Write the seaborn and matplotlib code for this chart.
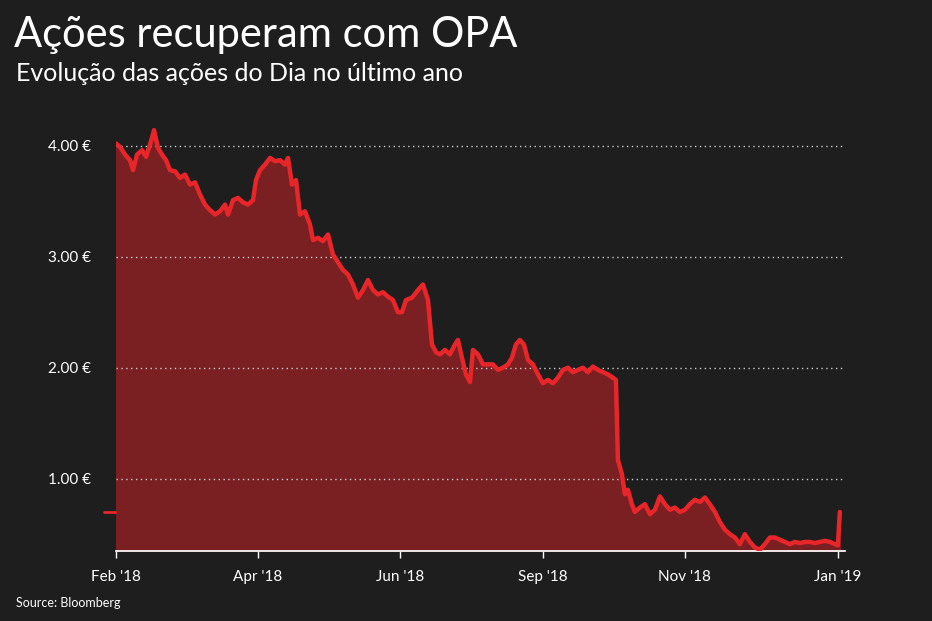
import matplotlib
matplotlib.use("Agg")
import matplotlib.pyplot as plt
import seaborn as sns
import pandas as pd

day = [0,4,9,14,17,21,26,30,34,38,42,46,50,54,59,64,69,74,79,84,89,94,99,104,109,112,117,122,127,132,137,140,144,149,154,159,164,169,172,176,180,184,189,194,197,202,207,212,217,222,227,232,237,242,247,252,257,262,267,272,277,282,286,290,296,302,307,312,316,320,324,329,334,339,342,346,350,354,357,362,367,372,377,382,387,392,396,400,404,408,412,417,422,427,432,437,442,447,452,457,462,467,472,477,482,487,492,497,500,502,506,509,512,516,519,524,529,534,539,544,549,554,559,564,569,574,579,584,589,594,599,604,609,614,619,624,629,634,639,644,649,654,659,664,669,674,679,684,689,694,699,704,709,714,719,722,724]
price = [4.02,3.99,3.92,3.87,3.78,3.92,3.96,3.90,4.01,4.14,3.98,3.92,3.87,3.78,3.77,3.71,3.74,3.65,3.67,3.56,3.47,3.42,3.38,3.41,3.47,3.38,3.51,3.53,3.49,3.47,3.51,3.69,3.78,3.83,3.89,3.86,3.87,3.83,3.89,3.65,3.69,3.38,3.41,3.29,3.15,3.17,3.14,3.20,3.02,2.95,2.88,2.84,2.75,2.63,2.70,2.79,2.70,2.66,2.68,2.64,2.61,2.50,2.50,2.61,2.63,2.70,2.75,2.61,2.21,2.14,2.12,2.16,2.12,2.21,2.25,2.09,1.94,1.87,2.16,2.12,2.03,2.03,2.03,1.98,2.00,2.03,2.09,2.21,2.25,2.21,2.07,2.03,1.94,1.86,1.89,1.86,1.91,1.98,2.00,1.96,1.98,2.00,1.96,2.01,1.98,1.96,1.94,1.91,1.89,1.17,1.04,0.86,0.90,0.77,0.70,0.74,0.77,0.68,0.72,0.84,0.77,0.72,0.74,0.70,0.72,0.77,0.81,0.79,0.83,0.77,0.70,0.61,0.54,0.50,0.47,0.41,0.50,0.43,0.38,0.36,0.41,0.47,0.47,0.45,0.43,0.41,0.43,0.42,0.43,0.43,0.42,0.43,0.44,0.43,0.41,0.40,0.70]
tick_pos = [0,142,284,427,569,722]
tick_labels = ["Feb '18","Apr '18","Jun '18","Sep '18","Nov '18","Jan '19"]
y_ticks = [1,2,3,4]
y_labels = ["1.00 €","2.00 €","3.00 €","4.00 €"]

n = min(len(day), len(price))
df = pd.DataFrame({"day": day[:n], "price": price[:n]})

bg = "#1e1e1e"
sns.set_theme(style="dark")
plt.rcParams['font.family'] = ['Lato', 'DejaVu Sans']
fig = plt.figure(figsize=(9.32, 6.21), dpi=100, facecolor=bg)
ax = fig.add_axes([0.1245, 0.113, 0.782, 0.697])
ax.set_facecolor(bg)
ax.fill_between(df["day"], df["price"], 0, color="#7a1f22", zorder=1)
sns.lineplot(data=df, x="day", y="price", ax=ax, color="#e8262a", linewidth=3.2, zorder=3)
ax.set_xlim(0, 729)
ax.set_ylim(0.35, 4.25)
ax.set_xticks(tick_pos)
ax.set_xticklabels(tick_labels, color="white", fontsize=11)
ax.set_yticks(y_ticks)
ax.set_yticklabels(y_labels, color="white", fontsize=11)
ax.set_xlabel(""); ax.set_ylabel("")
for s in ["top", "right", "left"]:
    ax.spines[s].set_visible(False)
ax.spines["bottom"].set_color("white")
ax.tick_params(axis="x", colors="white", length=5, width=1, direction="out", bottom=True, pad=9)
ax.tick_params(axis="y", length=0, pad=18)
for yv in y_ticks:
    ax.axhline(yv, color="#cccccc", linestyle=(0, (1, 2.5)), linewidth=1, zorder=2)
ax.plot([-12, -1], [price[-1], price[-1]], color="#e8262a", linewidth=2, clip_on=False)

fig.text(0.015, 0.925, "Ações recuperam com OPA", color="white", fontsize=30)
fig.text(0.017, 0.87, "Evolução das ações do Dia no último ano", color="white", fontsize=18)
fig.text(0.017, 0.022, "Source: Bloomberg", color="white", fontsize=9)
fig.savefig("out.png", dpi=100, facecolor=bg)
